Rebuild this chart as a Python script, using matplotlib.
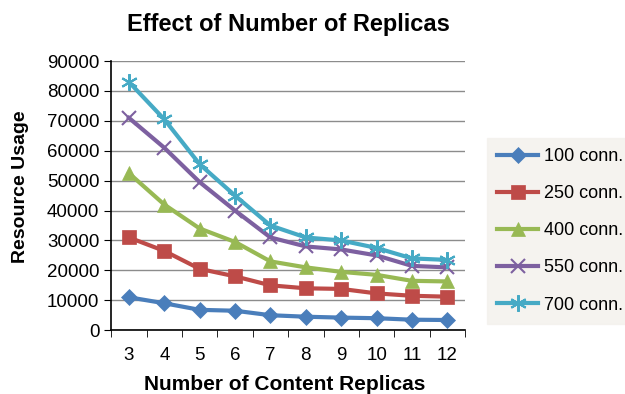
import matplotlib.pyplot as plt
import numpy as np

plt.rcParams['font.family'] = ['Liberation Sans', 'DejaVu Sans']

replicas = [3, 4, 5, 6, 7, 8, 9, 10, 11, 12]
labels = ['100 conn.', '250 conn.', '400 conn.', '550 conn.', '700 conn.']
c100 = [11000, 9000, 6800, 6500, 5000, 4500, 4200, 4000, 3500, 3400]
c250 = [31000, 26500, 20500, 18000, 15000, 14000, 13800, 12300, 11500, 11200]
c400 = [52500, 42000, 34000, 29500, 23000, 21000, 19500, 18500, 16500, 16300]
c550 = [71000, 61000, 49500, 40000, 31000, 28000, 27000, 25000, 21500, 21000]
c700 = [83000, 70500, 55500, 45000, 35000, 31000, 30000, 27500, 24000, 23500]

colors = ['#4A7EBB', '#BE4B48', '#98B954', '#7D60A0', '#46AAC5']
markers = ['D', 's', '^', 'x', (6, 2, 0)]
msizes = [8, 10, 10, 10, 12]

fig = plt.figure(figsize=(6.25, 3.94), dpi=100)
ax = fig.add_axes([0.178, 0.162, 0.566, 0.683])

for y, lab, col, m, ms in zip([c100, c250, c400, c550, c700], labels, colors, markers, msizes):
    ax.plot(replicas, y, color=col, lw=3, marker=m, markersize=ms,
            markeredgewidth=1.5 if m in ('x',) or isinstance(m, tuple) else 0.5,
            markeredgecolor=col, label=lab)

ax.set_xlim(2.5, 12.5)
ax.set_ylim(0, 90000)
ax.set_yticks(np.arange(0, 90001, 10000))
ax.set_xticks(replicas)
ax.set_xticks(np.arange(2.5, 12.6, 1), minor=True)
ax.tick_params(axis='x', which='major', length=0, pad=12, labelsize=13.5)
ax.tick_params(axis='x', which='minor', length=5, direction='out', color='black')
ax.tick_params(axis='y', length=5, direction='out', labelsize=13.5)
ax.grid(axis='y', color='#8c8c8c', lw=1)
ax.set_axisbelow(True)
for s in ['top', 'right']:
    ax.spines[s].set_visible(False)
ax.spines['left'].set_linewidth(1.2)
ax.spines['bottom'].set_linewidth(1.2)

ax.set_title('Effect of Number of Replicas', fontsize=17, fontweight='bold', pad=22)
ax.set_ylabel('Resource Usage', fontsize=14, fontweight='bold')
ax.set_xlabel('Number of Content Replicas', fontsize=15, fontweight='bold')
ax.yaxis.set_label_coords(-0.232, 0.535)
ax.xaxis.set_label_coords(0.49, -0.165)

leg = fig.legend(loc='upper left', bbox_to_anchor=(0.779, 0.65), frameon=True,
                 fontsize=13, handlelength=2.3, labelspacing=1.12, borderpad=0.55,
                 handletextpad=0.3, borderaxespad=0)
leg.get_frame().set_facecolor('#F3F1EC')
leg.get_frame().set_edgecolor('#F3F1EC')
leg.get_frame().set_boxstyle('square', pad=0)

fig.savefig('out.png', dpi=100)
